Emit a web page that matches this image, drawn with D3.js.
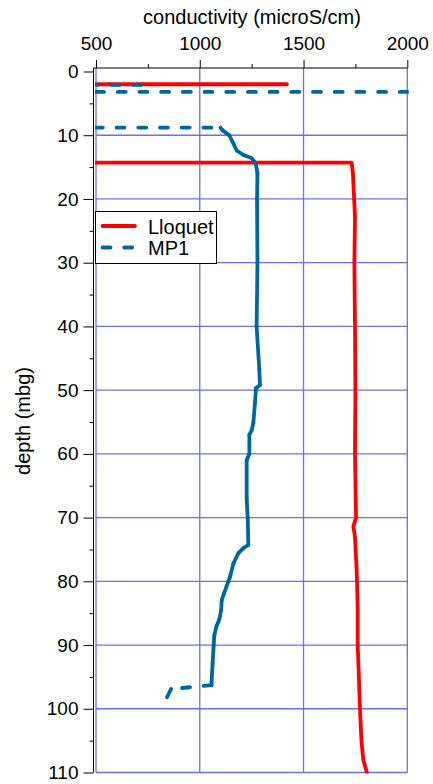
<!DOCTYPE html>
<html>
<head>
<meta charset="utf-8">
<script src="https://cdn.jsdelivr.net/npm/d3@7"></script>
<style>
  html, body { margin: 0; padding: 0; background: #fff; }
  svg { display: block; }
  text { font-family: "Liberation Sans", Arial, sans-serif; fill: #000; }
</style>
</head>
<body>
<svg id="chart" width="433" height="784"></svg>
<script>
// ---- data ----
const condTicks = [500, 1000, 1500, 2000];
const condMinorTicks = [750, 1250, 1750];
const depthTicks = [0, 10, 20, 30, 40, 50, 60, 70, 80, 90, 100, 110];
const depthMinorTicks = [5, 15, 25, 35, 45, 55, 65, 75, 85, 95, 105];

const xTitle = "conductivity (microS/cm)";
const yTitle = "depth (mbg)";
const seriesNames = ["Lloquet", "MP1"];

// Lloquet profile
const lloquetDepth = [2.0, 2.0, 14.3, 14.3, 16, 18.1, 22.8, 30, 40, 50, 60, 70, 71.4, 73, 78.2, 84, 90, 100, 105, 108, 110];
const lloquetCond  = [1420, 50, 50, 1732, 1738, 1741, 1748, 1745, 1748, 1750, 1748, 1753, 1740, 1748, 1756, 1761, 1761, 1772, 1779, 1788, 1805];

// MP1 profile (null = gap)
const mp1Depth = [2.1, 2.1, null, 3.2, 3.2, null,
  8.8, 8.8, 9.2, 10.0, 11.3, 12.4, 13.1, 13.6, 14.4, 16, 20, 30, 40, 46.8, 49.2, 49.7, 52, 55.2, 56.3, 57,
  60, 61, 67, 70, 74.3, 74.8, 75.6, 77.2, 79.3, 80, 81.9, 82.9, 84.5, 86, 87.1, 88.5, 90, 92.9, 95.7, 96.3, 96.9, 98.2];
const mp1Cond = [470, 720, null, 500, 2100, null,
  390, 1100, 1109, 1142, 1162, 1178, 1210, 1250, 1270, 1278, 1276, 1278, 1274, 1287, 1290, 1271, 1266, 1258, 1250, 1239,
  1239, 1226, 1226, 1231, 1234, 1210, 1186, 1162, 1146, 1138, 1117, 1106, 1103, 1094, 1080, 1070, 1067, 1062, 1057, 1057, 862, 842];

// ---- layout ----
const svg = d3.select("#chart");
const pL = 96, pR = 407.3, pT = 71.5, pB = 772.5;
const axisTopY = 68, axisLeftX = 93.5;

const x = d3.scaleLinear().domain([500, 2000]).range([pL, pR]);
const y = d3.scaleLinear().domain([0, 110]).range([pT, pB]);

const gridColor = "#6b6bff";
const redColor = "#ff0000";
const blueColor = "#00669c";

// clip
svg.append("defs").append("clipPath").attr("id", "plotclip")
  .append("rect").attr("x", pL - 1).attr("y", axisTopY)
  .attr("width", pR - pL + 2.5).attr("height", pB - axisTopY + 1);

// grid
const grid = svg.append("g");
grid.selectAll("line.v").data(condTicks).join("line").attr("class", "v")
  .attr("x1", d => x(d)).attr("x2", d => x(d))
  .attr("y1", axisTopY).attr("y2", pB)
  .attr("stroke", gridColor).attr("stroke-width", 1.3);
grid.selectAll("line.h").data(depthTicks.filter(d => d > 0)).join("line").attr("class", "h")
  .attr("x1", pL).attr("x2", pR)
  .attr("y1", d => y(d)).attr("y2", d => y(d))
  .attr("stroke", gridColor).attr("stroke-width", 1.3);

// axes
const fs = "19px";
const topAxis = svg.append("g").attr("transform", `translate(0,${axisTopY})`)
  .call(d3.axisTop(x).tickValues(condTicks).tickSize(8).tickPadding(10).tickFormat(d3.format("d")));
topAxis.select(".domain").attr("d", `M${axisLeftX},0H${pR}`);
svg.append("g").attr("transform", `translate(0,${axisTopY})`)
  .call(d3.axisTop(x).tickValues(condMinorTicks).tickSize(4).tickFormat(""))
  .select(".domain").remove();

const leftAxis = svg.append("g").attr("transform", `translate(${axisLeftX},0)`)
  .call(d3.axisLeft(y).tickValues(depthTicks).tickSize(10).tickPadding(5).tickFormat(d3.format("d")));
leftAxis.select(".domain").attr("d", `M0,${axisTopY}V${pB}`);
svg.append("g").attr("transform", `translate(${axisLeftX},0)`)
  .call(d3.axisLeft(y).tickValues(depthMinorTicks).tickSize(4).tickFormat(""))
  .select(".domain").remove();

svg.selectAll(".tick text").style("font-size", fs).attr("font-family", null);
svg.selectAll(".tick line, .domain").attr("stroke", "#000").attr("stroke-width", 1);

// titles
svg.append("text").attr("x", 252).attr("y", 23.5).attr("text-anchor", "middle")
  .style("font-size", "20px").text(xTitle);
svg.append("text").attr("transform", "translate(29.5,421) rotate(-90)").attr("text-anchor", "middle")
  .style("font-size", "20px").text(yTitle);

// traces
const plot = svg.append("g").attr("clip-path", "url(#plotclip)");

const lloquet = lloquetDepth.map((d, i) => ({ depth: d, cond: lloquetCond[i] }));
const mp1 = mp1Depth.map((d, i) => ({ depth: d, cond: mp1Cond[i] }));

const lineGen = d3.line().defined(d => d.depth != null && d.cond != null)
  .x(d => x(d.cond)).y(d => y(d.depth));

plot.append("path").datum(lloquet).attr("d", lineGen)
  .attr("fill", "none").attr("stroke", redColor).attr("stroke-width", 3.8)
  .attr("stroke-linejoin", "round").attr("stroke-linecap", "round");

// MP1: drawn segment by segment so the dash pattern restarts at every reading
const segs = [];
for (let i = 0; i < mp1.length - 1; i++) {
  const a = mp1[i], b = mp1[i + 1];
  if (a.depth == null || b.depth == null) continue;
  segs.push({ a, b, jump: Math.abs(b.depth - a.depth) < 0.8 });
}
plot.selectAll("line.mp1").data(segs).join("line").attr("class", "mp1")
  .attr("x1", d => x(d.a.cond)).attr("y1", d => y(d.a.depth))
  .attr("x2", d => x(d.b.cond)).attr("y2", d => y(d.b.depth))
  .attr("stroke", blueColor).attr("stroke-width", 3.8)
  .attr("stroke-linecap", "round")
  .attr("stroke-dasharray", d => d.jump ? "8,13.7" : null);

// legend
const lg = svg.append("g");
lg.append("rect").attr("x", 95.5).attr("y", 211.5).attr("width", 121).attr("height", 52)
  .attr("fill", "#fff").attr("stroke", "#000").attr("stroke-width", 1);
lg.append("line").attr("x1", 102.5).attr("x2", 135).attr("y1", 226).attr("y2", 226)
  .attr("stroke", redColor).attr("stroke-width", 3.8).attr("stroke-linecap", "round");
lg.append("line").attr("x1", 102.5).attr("x2", 135).attr("y1", 247.5).attr("y2", 247.5)
  .attr("stroke", blueColor).attr("stroke-width", 3.8).attr("stroke-linecap", "round")
  .attr("stroke-dasharray", "8,13.7");
lg.selectAll("text.lab").data(seriesNames).join("text").attr("class", "lab")
  .attr("x", 148).attr("y", (d, i) => 233.5 + i * 21.7)
  .style("font-size", "20px").text(d => d);
</script>
</body>
</html>
